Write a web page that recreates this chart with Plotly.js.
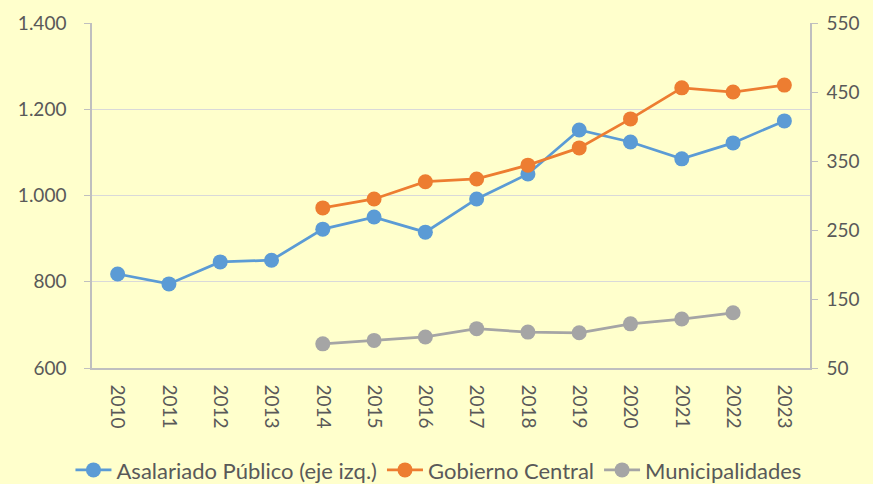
<!DOCTYPE html>
<html><head><meta charset="utf-8">
<script src="https://cdn.plot.ly/plotly-3.0.1.min.js"></script>
<style>html,body{margin:0;padding:0;background:#FFFFCC;}</style>
</head><body>
<div id="chart" style="width:873px;height:484px;"></div>
<script>
const years = ["2010","2011","2012","2013","2014","2015","2016","2017","2018","2019","2020","2021","2022","2023"];
const asalariado = [818,795,846,850,922,950,915,992,1050,1152,1124,1085,1122,1173];
const gobiernoCentral = [null,null,null,null,282,295,320,324,344,369,411,456,450,460];
const municipalidades = [null,null,null,null,85,90,95,107,102,101,114,121,130,null];
const leftTicks = [600,800,1000,1200,1400];
const rightTicks = [50,150,250,350,450,550];

const font = {family:"Lato, Liberation Sans, Arial", size:19, color:"#595959"};
const legendFont = {family:"Lato, Liberation Sans, Arial", size:22, color:"#595959"};
const traces = [
  {x:years, y:asalariado, name:"Asalariado Público (eje izq.)", type:"scatter", mode:"lines+markers",
   line:{color:"#5B9BD5", width:2.75}, marker:{color:"#5B9BD5", size:15}},
  {x:years, y:gobiernoCentral, name:"Gobierno Central", type:"scatter", mode:"lines+markers", yaxis:"y2",
   line:{color:"#ED7D31", width:2.75}, marker:{color:"#ED7D31", size:15}},
  {x:years, y:municipalidades, name:"Municipalidades", type:"scatter", mode:"lines+markers", yaxis:"y2",
   line:{color:"#A5A5A5", width:2.75}, marker:{color:"#A5A5A5", size:15}}
];
const layout = {
  width:873, height:484,
  paper_bgcolor:"#FFFFCC", plot_bgcolor:"#FFFFCC",
  separators:",.",
  margin:{l:92, r:63, t:23, b:116, autoexpand:false},
  font:font,
  showlegend:true,
  legend:{orientation:"h", xref:"paper", x:-0.03, xanchor:"left", y:-0.296, yanchor:"middle", font:legendFont,
          traceorder:"normal", bgcolor:"rgba(0,0,0,0)", itemwidth:36},
  xaxis:{type:"category", range:[-0.5,13.5], tickangle:90, showgrid:false, showline:true, linecolor:"#BFBFBF", linewidth:1.5,
         ticks:"", tickfont:font, zeroline:false, automargin:false, ticklabelstandoff:11},
  yaxis:{range:[600,1400], tickvals:leftTicks, tickformat:",d", showgrid:true, gridcolor:"#D9D9D9", gridwidth:1,
         showline:true, linecolor:"#BFBFBF", linewidth:1.5, ticks:"outside", ticklen:6, tickcolor:"#BFBFBF",
         tickfont:font, zeroline:false, automargin:false, ticklabelstandoff:14},
  yaxis2:{range:[50,550], tickvals:rightTicks, overlaying:"y", side:"right", showgrid:false,
          showline:true, linecolor:"#BFBFBF", linewidth:1.5, ticks:"outside", ticklen:6, tickcolor:"#BFBFBF",
          tickfont:font, zeroline:false, automargin:false, ticklabelstandoff:5}
};
Plotly.newPlot("chart", traces, layout, {displayModeBar:false});
</script>
</body></html>
